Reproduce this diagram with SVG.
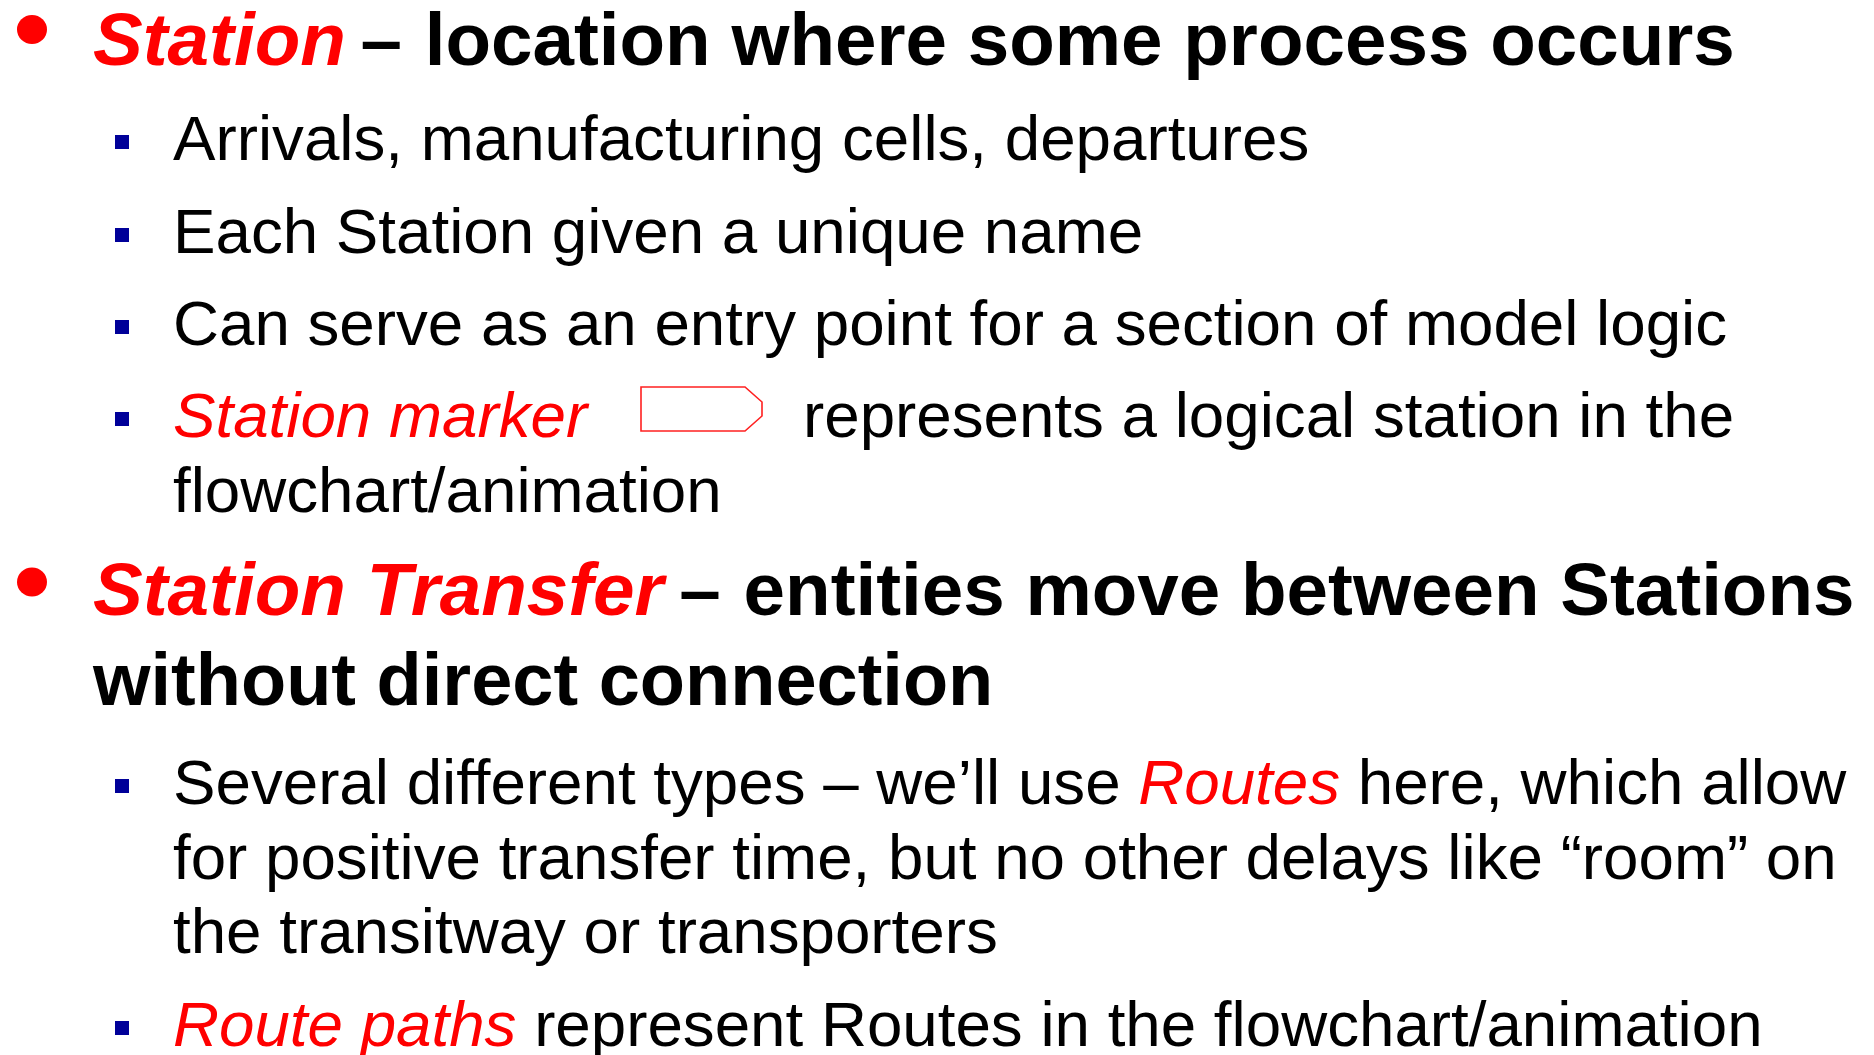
<svg xmlns="http://www.w3.org/2000/svg" width="1874" height="1055" viewBox="0 0 1874 1055">
<style>
.h{font-family:"Liberation Sans",Arial,sans-serif;font-size:74.6px;font-weight:bold;fill:#000}
.s{font-family:"Liberation Sans",Arial,sans-serif;font-size:63.7px;fill:#000}
.r{fill:#ff0000;font-style:italic}
.dot{fill:#ff0000}
.sq{fill:#000099}
</style>
<rect width="1874" height="1055" fill="#ffffff"/>
<g id="heading1">
<ellipse class="dot" cx="32" cy="29.5" rx="15" ry="14.5"/>
<text class="h" x="93" y="65"><tspan class="r">Station</tspan><tspan dx="-6"> –</tspan><tspan dx="2"> location where some process occurs</tspan></text>
</g>
<g id="sub1">
<rect class="sq" x="115" y="135" width="14" height="14"/>
<text class="s" x="173" y="160">Arrivals, manufacturing cells, departures</text>
</g>
<g id="sub2">
<rect class="sq" x="115" y="228" width="14" height="14"/>
<text class="s" x="173" y="253">Each Station given a unique name</text>
</g>
<g id="sub3">
<rect class="sq" x="115" y="320" width="14" height="14"/>
<text class="s" x="173" y="345">Can serve as an entry point for a section of model logic</text>
</g>
<g id="sub4">
<rect class="sq" x="115" y="412" width="14" height="14"/>
<text class="s" x="173" y="437"><tspan class="r">Station marker</tspan></text>
<path d="M641 387 H745 L762 402 V416 L745 431 H641 Z" fill="none" stroke="#ff2020" stroke-width="1.6"/>
<text class="s" x="803" y="437">represents a logical station in the</text>
<text class="s" x="173" y="512">flowchart/animation</text>
</g>
<g id="heading2">
<ellipse class="dot" cx="32" cy="582" rx="15" ry="14.5"/>
<text class="h" x="93" y="615"><tspan class="r">Station Transfer</tspan><tspan dx="-5"> –</tspan><tspan dx="2"> entities move between Stations</tspan></text>
<text class="h" x="93" y="705" style="font-size:74px">without direct connection</text>
</g>
<g id="sub5">
<rect class="sq" x="115" y="779" width="14" height="14"/>
<text class="s" x="173" y="804">Several different types – we’ll use <tspan class="r">Routes</tspan> here, which allow</text>
<text class="s" x="173" y="879">for positive transfer time, but no other delays like “room” on</text>
<text class="s" x="173" y="953">the transitway or transporters</text>
</g>
<g id="sub6">
<rect class="sq" x="115" y="1021" width="14" height="14"/>
<text class="s" x="173" y="1046"><tspan class="r">Route paths</tspan> represent Routes in the flowchart/animation</text>
</g>
<g id="connectors"/>
</svg>
